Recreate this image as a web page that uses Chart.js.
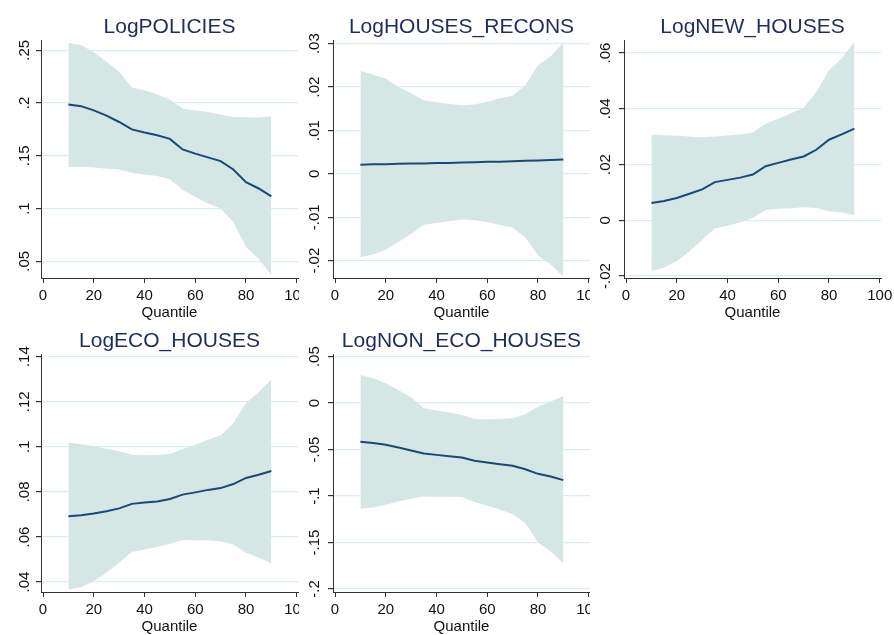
<!DOCTYPE html>
<html>
<head>
<meta charset="utf-8">
<script src="https://cdn.jsdelivr.net/npm/chart.js@4.4.0/dist/chart.umd.min.js"></script>
<style>
    body { margin: 0; background: #fff; width: 894px; height: 635px; position: relative; overflow: hidden; }
    canvas { position: absolute; }
</style>
</head>
<body>
<canvas id="policies" width="299" height="322" style="left:0;top:0"></canvas>
<canvas id="recons" width="298" height="322" style="left:292px;top:0"></canvas>
<canvas id="newHouses" width="311" height="322" style="left:583px;top:0"></canvas>
<canvas id="eco" width="299" height="322" style="left:0;top:314px"></canvas>
<canvas id="nonEco" width="298" height="322" style="left:292px;top:314px"></canvas>
<script>
const quantiles = [10, 15, 20, 25, 30, 35, 40, 45, 50, 55, 60, 65, 70, 75, 80, 85, 90];
const xTicks = [0, 20, 40, 60, 80, 100];

const policiesCoef = [0.1985, 0.197, 0.193, 0.188, 0.182, 0.175, 0.172, 0.1695, 0.166, 0.156, 0.152, 0.1485, 0.145, 0.137, 0.125, 0.119, 0.1115];
const policiesUpper = [0.257, 0.2547, 0.2484, 0.239, 0.2295, 0.2146, 0.212, 0.208, 0.2032, 0.1947, 0.193, 0.1915, 0.189, 0.1868, 0.1865, 0.1862, 0.1874];
const policiesLower = [0.1394, 0.1394, 0.1388, 0.1378, 0.1369, 0.1337, 0.1322, 0.1309, 0.1277, 0.1179, 0.111, 0.1047, 0.100, 0.0873, 0.0636, 0.0525, 0.0367];
const policiesTicks = ['.05', '.1', '.15', '.2', '.25'];

const reconsCoef = [0.0021, 0.0022, 0.0022, 0.0023, 0.0024, 0.0024, 0.0025, 0.0025, 0.0026, 0.0027, 0.0028, 0.0028, 0.0029, 0.0030, 0.0031, 0.0032, 0.0033];
const reconsUpper = [0.0237, 0.0229, 0.0219, 0.0201, 0.0186, 0.0169, 0.0165, 0.0161, 0.0158, 0.0160, 0.0166, 0.0174, 0.0180, 0.0204, 0.0250, 0.0271, 0.0302];
const reconsLower = [-0.0192, -0.0186, -0.0175, -0.0157, -0.0138, -0.0117, -0.0113, -0.0109, -0.0105, -0.0107, -0.0111, -0.0118, -0.0124, -0.0146, -0.0188, -0.0209, -0.0237];
const reconsTicks = ['-.02', '-.01', '0', '.01', '.02', '.03'];

const newCoef = [0.0062, 0.0069, 0.0080, 0.0095, 0.0111, 0.0137, 0.0145, 0.0153, 0.0164, 0.0194, 0.0206, 0.0218, 0.0229, 0.0253, 0.0289, 0.0308, 0.0329];
const newUpper = [0.0308, 0.0305, 0.0303, 0.0301, 0.0298, 0.0301, 0.0304, 0.0308, 0.0315, 0.0346, 0.0364, 0.0384, 0.0404, 0.0460, 0.0538, 0.0580, 0.0640];
const newLower = [-0.0183, -0.0169, -0.0147, -0.0111, -0.0071, -0.0029, -0.0020, -0.0007, 0.0008, 0.0037, 0.0041, 0.0043, 0.0047, 0.0044, 0.0032, 0.0028, 0.0019];
const newTicks = ['-.02', '0', '.02', '.04', '.06'];

const ecoCoef = [0.0692, 0.0696, 0.0704, 0.0714, 0.0727, 0.0747, 0.0753, 0.0758, 0.0769, 0.0788, 0.0798, 0.0809, 0.0817, 0.0835, 0.0862, 0.0876, 0.0893];
const ecoUpper = [0.1019, 0.1012, 0.1003, 0.0991, 0.0980, 0.0965, 0.0963, 0.0965, 0.0968, 0.0990, 0.1009, 0.1031, 0.1050, 0.1105, 0.1194, 0.1242, 0.1300];
const ecoLower = [0.0366, 0.0378, 0.0404, 0.0441, 0.0486, 0.0534, 0.0545, 0.0556, 0.0570, 0.0587, 0.0586, 0.0584, 0.0581, 0.0567, 0.0530, 0.0508, 0.0483];
const ecoTicks = ['.04', '.06', '.08', '.1', '.12', '.14'];

const nonEcoCoef = [-0.0417, -0.0428, -0.0449, -0.0478, -0.0510, -0.0542, -0.0557, -0.0571, -0.0585, -0.0621, -0.0639, -0.0657, -0.0674, -0.0711, -0.0761, -0.0789, -0.0829];
const nonEcoUpper = [0.0303, 0.0267, 0.0213, 0.0142, 0.0059, -0.0055, -0.0080, -0.0102, -0.0127, -0.0170, -0.0173, -0.0170, -0.0163, -0.0120, -0.0037, 0.0016, 0.0077];
const nonEcoLower = [-0.1137, -0.1122, -0.1094, -0.1058, -0.1029, -0.1004, -0.1008, -0.1008, -0.1011, -0.1065, -0.1105, -0.1148, -0.1194, -0.1291, -0.1499, -0.1595, -0.1724];
const nonEcoTicks = ['-.2', '-.15', '-.1', '-.05', '0', '.05'];

const FONT = '"Liberation Sans", Arial, sans-serif';
Chart.defaults.font.family = FONT;
Chart.defaults.color = '#111';

const BAND = '#d5e7e5';
const LINE = '#1b4876';
const GRID = '#dcedf2';
const AXIS = '#333';

// plot box: y axis strip on the left, fixed plot width after it
const Y_AXIS_WIDTH = 41;
const PLOT_WIDTH = 257;
// distance from the axis line to the centre of the rotated y labels
const LABEL_GAP = 16;
const TICK_LEN = 5;

function points(values) {
    return quantiles.map((q, i) => ({ x: q, y: values[i] }));
}

function labelPadding(labels) {
    const ctx = document.createElement('canvas').getContext('2d');
    ctx.font = '15px ' + FONT;
    const widest = Math.max(...labels.map(l => ctx.measureText(l).width));
    return Math.max(0, LABEL_GAP - TICK_LEN - widest / 2);
}

function makePanel(id, title, yTicks, yMin, yMax, coef, upper, lower) {
    const canvas = document.getElementById(id);
    const ctx = canvas.getContext('2d');
    const rightPad = canvas.width - Y_AXIS_WIDTH - PLOT_WIDTH;

    new Chart(ctx, {
        type: 'line',
        data: {
            datasets: [
                {
                    data: points(coef),
                    borderColor: LINE,
                    borderWidth: 2,
                    pointRadius: 0,
                    fill: false
                },
                {
                    data: points(upper),
                    borderWidth: 0,
                    pointRadius: 0,
                    backgroundColor: BAND,
                    fill: '+1'
                },
                {
                    data: points(lower),
                    borderWidth: 0,
                    pointRadius: 0,
                    fill: false
                }
            ]
        },
        options: {
            responsive: false,
            animation: false,
            layout: { padding: { left: 0, right: rightPad, top: 0, bottom: 0 } },
            plugins: {
                legend: { display: false },
                tooltip: { enabled: false },
                title: {
                    display: true,
                    text: title,
                    fullSize: false,
                    color: '#1c2d5e',
                    font: { size: 21, weight: 'normal' },
                    padding: { top: 15, bottom: 0 }
                }
            },
            scales: {
                x: {
                    type: 'linear',
                    min: -0.8,
                    max: 100.5,
                    afterBuildTicks: scale => { scale.ticks = xTicks.map(v => ({ value: v })); },
                    afterFit: scale => {
                        scale.height = 44;
                        scale.paddingLeft = 0;
                        scale.paddingRight = 0;
                    },
                    border: { color: AXIS, width: 1 },
                    grid: { drawOnChartArea: false, drawTicks: true, tickLength: TICK_LEN, tickColor: AXIS },
                    ticks: { font: { size: 15 }, padding: 4, maxRotation: 0 },
                    title: { display: true, text: 'Quantile', font: { size: 15 }, padding: { top: 0, bottom: 0 } }
                },
                y: {
                    min: yMin,
                    max: yMax,
                    afterBuildTicks: scale => { scale.ticks = yTicks.map(l => ({ value: Number(l) })); },
                    afterFit: scale => {
                        scale.width = Y_AXIS_WIDTH;
                        scale.paddingTop = 0;
                        scale.paddingBottom = 0;
                    },
                    border: { color: AXIS, width: 1 },
                    grid: { color: GRID, lineWidth: 1.2, tickLength: TICK_LEN, tickColor: AXIS },
                    ticks: {
                        font: { size: 15 },
                        minRotation: 90,
                        maxRotation: 90,
                        crossAlign: 'center',
                        padding: labelPadding(yTicks),
                        callback: (value, index) => yTicks[index]
                    }
                }
            }
        }
    });
}

makePanel('policies', 'LogPOLICIES', policiesTicks, 0.0342, 0.2595, policiesCoef, policiesUpper, policiesLower);
makePanel('recons', 'LogHOUSES_RECONS', reconsTicks, -0.0240, 0.0308, reconsCoef, reconsUpper, reconsLower);
makePanel('newHouses', 'LogNEW_HOUSES', newTicks, -0.0207, 0.0646, newCoef, newUpper, newLower);
makePanel('eco', 'LogECO_HOUSES', ecoTicks, 0.0356, 0.1411, ecoCoef, ecoUpper, ecoLower);
makePanel('nonEco', 'LogNON_ECO_HOUSES', nonEcoTicks, -0.2032, 0.0526, nonEcoCoef, nonEcoUpper, nonEcoLower);
</script>
</body>
</html>
